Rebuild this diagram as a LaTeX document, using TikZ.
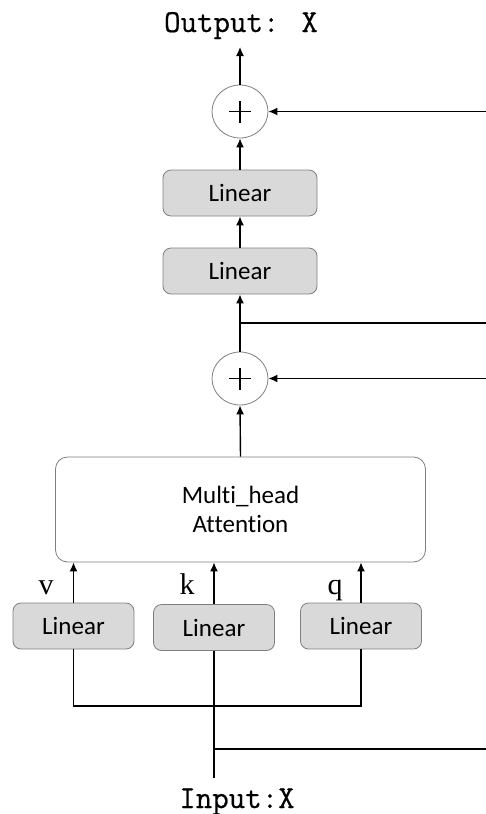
\documentclass[tikz,border=0pt]{standalone}
\usepackage{fontspec}
\usetikzlibrary{shapes.geometric,arrows.meta}
\newfontfamily\carlito[Ligatures={NoCommon}]{Carlito}
\newfontfamily\serifA{Liberation Serif}
\newfontfamily\monoA[FakeBold=0.6]{Latin Modern Mono}
\definecolor{boxfill}{HTML}{D9D9D9}
\definecolor{boxline}{HTML}{7F7F7F}
\tikzset{
  wire/.style={line width=1.4pt, black},
  arr/.style={wire, -{Latex[length=9pt,width=8pt]}},
  linbox/.style={draw=boxline, line width=0.8pt, fill=boxfill, rounded corners=8pt,
    minimum width=154pt, minimum height=46pt, inner sep=0pt,
    font=\carlito\fontsize{25}{29}\selectfont},
  linsmall/.style={linbox, minimum width=121pt},
  addnode/.style={draw=boxline, line width=0.8pt, fill=white, ellipse,
    minimum width=56pt, minimum height=53pt, inner sep=0pt,
    path picture={
      \draw[black, line width=1.7pt] ([xshift=-11pt]path picture bounding box.center) -- ([xshift=11pt]path picture bounding box.center);
      \draw[black, line width=1.7pt] ([yshift=-11pt]path picture bounding box.center) -- ([yshift=11pt]path picture bounding box.center);
    }},
  attbox/.style={draw=boxline, line width=0.8pt, fill=white, rounded corners=12pt,
    minimum width=370pt, minimum height=105pt, inner sep=0pt, align=center,
    font=\carlito\fontsize{25}{29}\selectfont},
  iotext/.style={font=\monoA\fontsize{32}{36}\selectfont, inner sep=0pt, anchor=base},
  qkv/.style={font=\serifA\fontsize{30}{34}\selectfont, inner sep=0pt, anchor=base}
}
\begin{document}
\begin{tikzpicture}[x=1pt,y=-1pt]
  \useasboundingbox (0,0) rectangle (486,814);

  % blocks
  \node[iotext] (out) at (241,32) {Output: X};
  \node[addnode] (add2) at (240,111.5) {};
  \node[linbox] (lin4) at (240,193) {Linear};
  \node[linbox] (lin3) at (240,271) {Linear};
  \node[addnode] (add1) at (240,378.5) {};
  \node[attbox] (mha) at (240.5,509.5) {Multi\_head\\Attention};
  \node[linsmall] (lv) at (73.5,626) {Linear};
  \node[linsmall] (lk) at (214,627.5) {Linear};
  \node[linsmall] (lq) at (361,626) {Linear};
  \node[iotext] (in) at (237,808) {Input:X};

  % v, k, q labels
  \node[qkv] (lbv) at (46,594) {v};
  \node[qkv] (lbk) at (187,594) {k};
  \node[qkv] (lbq) at (335,594) {q};

  % free ends
  \coordinate (outtip) at (240,47);
  \coordinate (res2) at (486,111.5);
  \coordinate (tapA) at (240,323);
  \coordinate (edgeA) at (486,323);
  \coordinate (res1) at (486,378.5);
  \coordinate (split) at (214,706);
  \coordinate (tapB) at (214,749);
  \coordinate (edgeB) at (486,749);
  \coordinate (intop) at (214,778);

  % main path
  \draw[arr] (add2.north) -- (outtip);
  \draw[arr] (res2) -- (add2.east);
  \draw[arr] (lin4.north) -- (add2.south);
  \draw[arr] (lin3.north) -- (lin4.south);
  \draw[arr] (add1.north) -- (lin3.south);
  \draw[wire] (tapA) -- (edgeA);
  \draw[arr] (res1) -- (add1.east);
  \draw[arr] (mha.north) -- (add1.south);

  % projections into attention
  \draw[arr] (lv.north) -- (lv.north |- mha.south);
  \draw[arr] (lk.north) -- (lk.north |- mha.south);
  \draw[arr] (lq.north) -- (lq.north |- mha.south);

  % input fan-out
  \draw[wire] (lv.south) |- (split) -| (lq.south);
  \draw[wire] (lk.south) -- (intop);
  \draw[wire] (tapB) -- (edgeB);
\end{tikzpicture}
\end{document}
